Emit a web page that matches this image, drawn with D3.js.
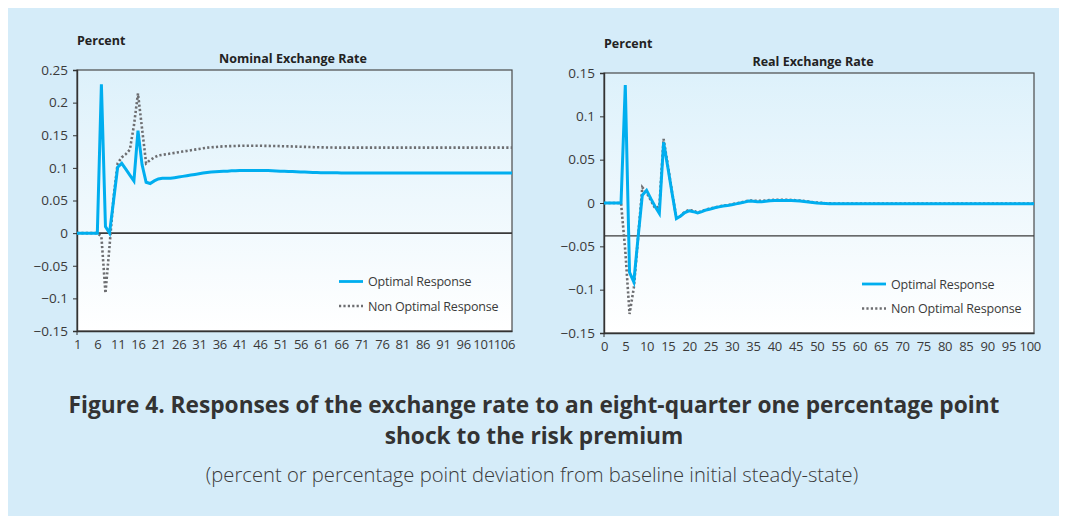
<!DOCTYPE html>
<html>
<head>
<meta charset="utf-8">
<script src="https://cdn.jsdelivr.net/npm/d3@7"></script>
<style>
  html, body { margin: 0; padding: 0; background: #ffffff; }
  svg { display: block; }
</style>
</head>
<body>
<svg id="chart" width="1066" height="523"></svg>
<script>
// ---------- DATA ----------
// Left panel: Nominal Exchange Rate, periods 1..108
const nominalPeriods = d3.range(1, 109);
const nominalTickLabels = [1, 6, 11, 16, 21, 26, 31, 36, 41, 46, 51, 56, 61, 66, 71, 76, 81, 86, 91, 96, 101, 106];
const nominalYTicks = [0.25, 0.2, 0.15, 0.1, 0.05, 0, -0.05, -0.1, -0.15];
const nominalOptimal = [
  0, 0, 0, 0, 0, 0, 0.228, 0.010, 0.000, 0.050,
  0.101, 0.107, 0.098, 0.089, 0.080, 0.157, 0.105, 0.078, 0.076, 0.080,
  0.083, 0.084, 0.084, 0.084, 0.085, 0.086, 0.087, 0.088, 0.089, 0.090,
  0.091, 0.092, 0.093, 0.0935, 0.094, 0.0945, 0.095, 0.095, 0.0955, 0.0955,
  0.096, 0.096, 0.096, 0.096, 0.096, 0.096, 0.096, 0.0958, 0.0955, 0.0953,
  0.095, 0.0948, 0.0945, 0.0943, 0.094, 0.0938, 0.0935, 0.0933, 0.093, 0.0928,
  0.0926, 0.0925, 0.0925, 0.0924, 0.0924, 0.0923, 0.0923, 0.0922, 0.0922, 0.0922,
  0.0921, 0.0921, 0.0921, 0.092, 0.092, 0.092, 0.092, 0.092, 0.092, 0.092,
  0.092, 0.092, 0.092, 0.092, 0.092, 0.092, 0.092, 0.092, 0.092, 0.092,
  0.092, 0.092, 0.092, 0.092, 0.092, 0.092, 0.092, 0.092, 0.092, 0.092,
  0.092, 0.092, 0.092, 0.092, 0.092, 0.092, 0.092, 0.092
];
const nominalNonOptimal = [
  0, 0, 0, 0, 0, 0, -0.005, -0.092, -0.020, 0.055,
  0.107, 0.116, 0.121, 0.128, 0.165, 0.214, 0.160, 0.107, 0.112, 0.116,
  0.119, 0.120, 0.121, 0.122, 0.123, 0.124, 0.125, 0.126, 0.127, 0.128,
  0.129, 0.130, 0.131, 0.1315, 0.132, 0.1325, 0.133, 0.1332, 0.1334, 0.1336,
  0.1338, 0.134, 0.134, 0.134, 0.134, 0.134, 0.1338, 0.1337, 0.1336, 0.1335,
  0.1333, 0.1331, 0.133, 0.1328, 0.1326, 0.1324, 0.1322, 0.132, 0.1318, 0.1316,
  0.1315, 0.1313, 0.1312, 0.1311, 0.131, 0.131, 0.131, 0.131, 0.131, 0.131,
  0.131, 0.131, 0.131, 0.131, 0.131, 0.131, 0.131, 0.131, 0.131, 0.131,
  0.131, 0.131, 0.131, 0.131, 0.131, 0.131, 0.131, 0.131, 0.131, 0.131,
  0.131, 0.131, 0.131, 0.131, 0.131, 0.131, 0.131, 0.131, 0.131, 0.131,
  0.131, 0.131, 0.131, 0.131, 0.131, 0.131, 0.131, 0.131
];

// Right panel: Real Exchange Rate, periods 0..101
const realPeriods = d3.range(0, 102);
const realTickLabels = [0, 5, 10, 15, 20, 25, 30, 35, 40, 45, 50, 55, 60, 65, 70, 75, 80, 85, 90, 95, 100];
const realYTicks = [0.15, 0.1, 0.05, 0, -0.05, -0.1, -0.15];
const realOptimal = [
  0, 0, 0, 0, 0, 0.136, -0.080, -0.091, -0.040, 0.009,
  0.0146, 0.005, -0.004, -0.012, 0.070, 0.041, 0.011, -0.018, -0.015, -0.011,
  -0.009, -0.010, -0.0115, -0.010, -0.008, -0.007, -0.0055, -0.0045, -0.0035, -0.003,
  -0.002, -0.001, 0.000, 0.001, 0.0023, 0.002, 0.0015, 0.0015, 0.002, 0.0025,
  0.003, 0.003, 0.003, 0.003, 0.0028, 0.0025, 0.0022, 0.0018, 0.0012, 0.0006,
  0.000, -0.0004, -0.0007, -0.0009, -0.001, -0.001, -0.001, -0.001, -0.001, -0.001,
  -0.001, -0.001, -0.001, -0.001, -0.001, -0.001, -0.001, -0.001, -0.001, -0.001,
  -0.001, -0.001, -0.001, -0.001, -0.001, -0.001, -0.001, -0.001, -0.001, -0.001,
  -0.001, -0.001, -0.001, -0.001, -0.001, -0.001, -0.001, -0.001, -0.001, -0.001,
  -0.001, -0.001, -0.001, -0.001, -0.001, -0.001, -0.001, -0.001, -0.001, -0.001,
  -0.001, -0.001
];
const realNonOptimal = [
  0, 0, 0, 0, 0, -0.055, -0.128, -0.098, -0.040, 0.018,
  0.012, 0.003, -0.006, -0.004, 0.074, 0.043, 0.012, -0.017, -0.015, -0.010,
  -0.008, -0.009, -0.011, -0.0095, -0.0075, -0.0065, -0.005, -0.004, -0.003, -0.0025,
  -0.0015, -0.0005, 0.0005, 0.0015, 0.003, 0.0028, 0.0024, 0.0024, 0.0028, 0.0033,
  0.0037, 0.0038, 0.0038, 0.0037, 0.0035, 0.0032, 0.0028, 0.0023, 0.0017, 0.001,
  0.0005, 0.0001, -0.0002, -0.0004, -0.0005, -0.0005, -0.0005, -0.0005, -0.0005, -0.0005,
  -0.0005, -0.0005, -0.0005, -0.0005, -0.0005, -0.0005, -0.0005, -0.0005, -0.0005, -0.0005,
  -0.0005, -0.0005, -0.0005, -0.0005, -0.0005, -0.0005, -0.0005, -0.0005, -0.0005, -0.0005,
  -0.0005, -0.0005, -0.0005, -0.0005, -0.0005, -0.0005, -0.0005, -0.0005, -0.0005, -0.0005,
  -0.0005, -0.0005, -0.0005, -0.0005, -0.0005, -0.0005, -0.0005, -0.0005, -0.0005, -0.0005,
  -0.0005, -0.0005
];

const legendLabels = ["Optimal Response", "Non Optimal Response"];

// ---------- DRAWING ----------
const FONT = "'Open Sans', 'Noto Sans', sans-serif";
const BLUE = "#00aeef";
const GRAY = "#6d6e71";
const TEXT = "#3a3a3a";

const svg = d3.select("#chart");

// background
svg.append("rect").attr("x", 8).attr("y", 8).attr("width", 1051).attr("height", 508).attr("fill", "#d5ecf9");

const defs = svg.append("defs");
const grad = defs.append("linearGradient").attr("id", "plotGrad").attr("x1", 0).attr("y1", 0).attr("x2", 0).attr("y2", 1);
grad.append("stop").attr("offset", "0%").attr("stop-color", "#ddf1fb");
grad.append("stop").attr("offset", "100%").attr("stop-color", "#ffffff");

function drawPanel(cfg) {
  const x = d3.scalePoint().domain(cfg.periods).range([cfg.x0, cfg.x1]);
  const y = d3.scaleLinear().domain([-0.15, cfg.yMax]).range([cfg.y1, cfg.y0]);
  const g = svg.append("g");

  // plot area
  g.append("rect").attr("x", cfg.x0).attr("y", cfg.y0).attr("width", cfg.x1 - cfg.x0).attr("height", cfg.y1 - cfg.y0)
    .attr("fill", "url(#plotGrad)").attr("stroke", "#4a4a4a").attr("stroke-width", 1.2);

  // horizontal crossing line
  g.append("line").attr("x1", cfg.x0).attr("x2", cfg.x1)
    .attr("y1", y(cfg.crossAt)).attr("y2", y(cfg.crossAt))
    .attr("stroke", "#3a3a3a").attr("stroke-width", cfg.crossWidth);

  // y axis
  const yAxis = d3.axisLeft(y).tickValues(cfg.yTicks).tickSize(4).tickPadding(5)
    .tickFormat(d => d === 0 ? "0" : d3.format("")(+d.toFixed(2)));
  const ya = g.append("g").attr("transform", `translate(${cfg.x0},0)`).call(yAxis);
  ya.select(".domain").attr("stroke", "#333").attr("stroke-width", 1.4);
  ya.selectAll(".tick line").attr("stroke", "#333");
  ya.selectAll("text").attr("font-family", FONT).attr("font-size", 13.5).attr("fill", TEXT);

  // x axis
  const xAxis = d3.axisBottom(x).tickValues(cfg.xTicks).tickSize(0).tickPadding(9);
  const xa = g.append("g").attr("transform", `translate(0,${cfg.y1})`).call(xAxis);
  xa.select(".domain").attr("stroke", "#333").attr("stroke-width", 1.4);
  xa.selectAll("text").attr("font-family", FONT).attr("font-size", 13).attr("letter-spacing", "-0.3px").attr("fill", TEXT);
  g.append("line").attr("x1", cfg.x0).attr("x2", cfg.x0).attr("y1", cfg.y1).attr("y2", cfg.y1 + 4).attr("stroke", "#333");

  // lines
  const line = d3.line().x((d, i) => x(cfg.periods[i])).y(d => y(d));
  g.append("path").datum(cfg.nonOpt).attr("d", line).attr("fill", "none")
    .attr("stroke", GRAY).attr("stroke-width", 2.6).attr("stroke-dasharray", "2.2,2.2");
  g.append("path").datum(cfg.opt).attr("d", line).attr("fill", "none")
    .attr("stroke", BLUE).attr("stroke-width", 3).attr("stroke-linejoin", "miter");

  // titles
  svg.append("text").attr("x", cfg.x0).attr("y", cfg.percentY).text("Percent")
    .attr("font-family", FONT).attr("font-weight", "bold").attr("font-size", 12.5).attr("fill", "#222");
  svg.append("text").attr("x", cfg.titleX).attr("y", cfg.titleY).attr("text-anchor", "middle").text(cfg.title)
    .attr("font-family", FONT).attr("font-weight", "bold").attr("font-size", 12.5).attr("fill", "#222");

  // legend
  const lg = svg.append("g");
  [0, 1].forEach(i => {
    const ly = cfg.legY + i * 24.5;
    lg.append("line").attr("x1", cfg.legX).attr("x2", cfg.legX + 24).attr("y1", ly).attr("y2", ly)
      .attr("stroke", i === 0 ? BLUE : GRAY).attr("stroke-width", i === 0 ? 2.8 : 2.4)
      .attr("stroke-dasharray", i === 0 ? null : "2.2,2.2");
    lg.append("text").attr("x", cfg.legX + 29).attr("y", ly).attr("dy", "0.36em").text(legendLabels[i])
      .attr("font-family", FONT).attr("font-size", 12.5).attr("letter-spacing", "-0.2px").attr("fill", TEXT);
  });
}

drawPanel({
  periods: nominalPeriods, opt: nominalOptimal, nonOpt: nominalNonOptimal,
  xTicks: nominalTickLabels, yTicks: nominalYTicks, yMax: 0.25,
  x0: 77, x1: 512, y0: 70, y1: 331, crossAt: 0, crossWidth: 1.8,
  title: "Nominal Exchange Rate", titleX: 293, titleY: 63, percentY: 45,
  legX: 339, legY: 281.5
});

drawPanel({
  periods: realPeriods, opt: realOptimal, nonOpt: realNonOptimal,
  xTicks: realTickLabels, yTicks: realYTicks, yMax: 0.15,
  x0: 604, x1: 1034, y0: 73, y1: 333, crossAt: -0.038, crossWidth: 1.2,
  title: "Real Exchange Rate", titleX: 813, titleY: 66, percentY: 48,
  legX: 862, legY: 284
});

// caption
svg.append("text").attr("x", 534).attr("y", 413).attr("text-anchor", "middle")
  .text("Figure 4. Responses of the exchange rate to an eight-quarter one percentage point")
  .attr("font-family", FONT).attr("font-weight", "bold").attr("font-size", 22.7).attr("fill", "#333");
svg.append("text").attr("x", 534).attr("y", 444).attr("text-anchor", "middle")
  .text("shock to the risk premium")
  .attr("font-family", FONT).attr("font-weight", "bold").attr("font-size", 22.7).attr("fill", "#333");
svg.append("text").attr("x", 532).attr("y", 482).attr("text-anchor", "middle")
  .text("(percent or percentage point deviation from baseline initial steady-state)")
  .attr("font-family", FONT).attr("font-weight", 300).attr("font-size", 20.2).attr("fill", "#3a3a3a");
</script>
</body>
</html>
